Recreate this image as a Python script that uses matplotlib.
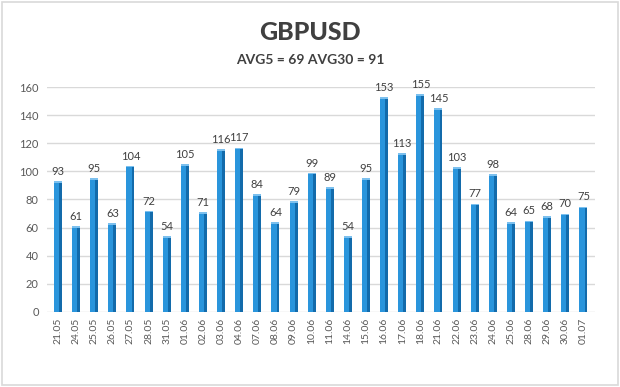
import matplotlib.pyplot as plt
import numpy as np

# daily ranges, GBPUSD
dates = ['21.05', '24.05', '25.05', '26.05', '27.05', '28.05', '31.05', '01.06', '02.06', '03.06',
         '04.06', '07.06', '08.06', '09.06', '10.06', '11.06', '14.06', '15.06', '16.06', '17.06',
         '18.06', '21.06', '22.06', '23.06', '24.06', '25.06', '28.06', '29.06', '30.06', '01.07']
values = [93, 61, 95, 63, 104, 72, 54, 105, 71, 116,
          117, 84, 64, 79, 99, 89, 54, 95, 153, 113,
          155, 145, 103, 77, 98, 64, 65, 68, 70, 75]
title = 'GBPUSD'
subtitle = 'AVG5 = 69 AVG30 = 91'

plt.rcParams['font.family'] = ['Lato', 'DejaVu Sans']

fig = plt.figure(figsize=(6.2, 3.87), dpi=100)
ax = fig.add_axes([0.076, 0.194, 0.884, 0.581])

x = np.arange(len(values))
w = 0.44
# front face + darker side to fake the 3D look
ax.bar(x, values, width=w, color='#2a95dc', zorder=3)
ax.bar(x + w * 0.32, values, width=w * 0.36, color='#136bab', zorder=4)
ax.bar(x, [1.2] * len(values), bottom=np.array(values) - 1.2, width=w,
       color='#7cc0ee', zorder=5)

for xi, v in zip(x, values):
    ax.text(xi, v + 3, str(v), ha='center', va='bottom', fontsize=8, color='#404040')

ax.set_ylim(0, 160)
ax.set_xlim(-0.6, len(values) - 0.35)
ax.set_yticks(range(0, 161, 20))
ax.set_xticks(x)
ax.set_xticklabels(dates, rotation=90, fontsize=7.5, color='#595959')
ax.tick_params(axis='y', labelsize=8, colors='#595959', length=0, pad=6)
ax.tick_params(axis='x', length=0, pad=4)
ax.grid(axis='y', color='#d9d9d9', linewidth=1, zorder=0)
for s in ax.spines.values():
    s.set_visible(False)

fig.text(0.5, 0.915, title, ha='center', va='center', fontsize=18, fontweight='black', color='#404040')
fig.text(0.5, 0.845, subtitle, ha='center', va='center', fontsize=10, fontweight='bold', color='#404040')

# light frame round the picture
fig.patches.append(plt.Rectangle((0.003, 0.004), 0.994, 0.992, transform=fig.transFigure,
                                 fill=False, edgecolor='#d9d9d9', linewidth=1.2))

fig.savefig('out.png', dpi=100)
